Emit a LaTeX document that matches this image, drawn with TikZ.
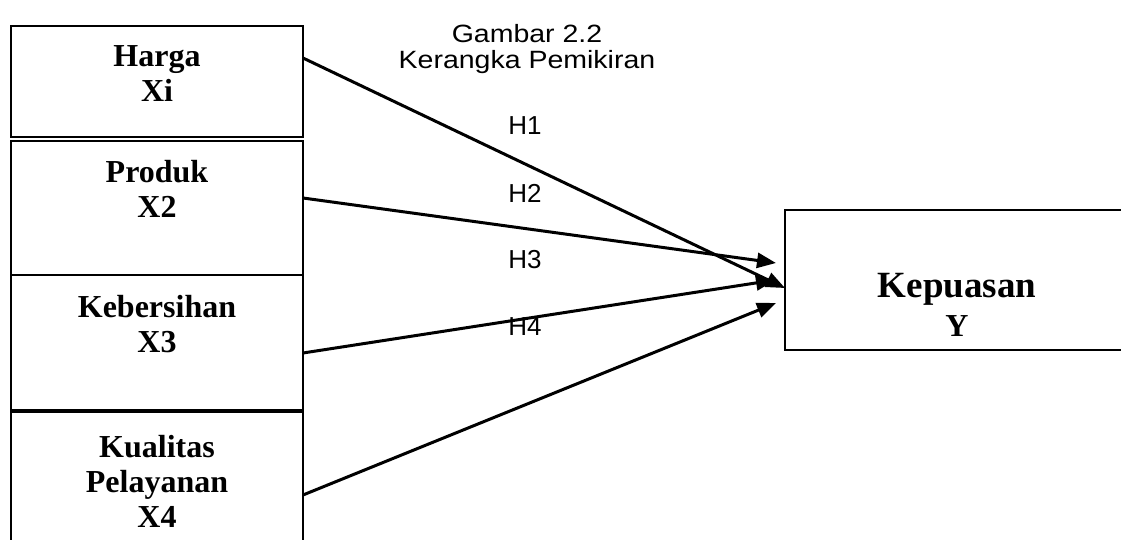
\documentclass[tikz,border=0pt]{standalone}
\usepackage{fontspec}
\setmainfont{Liberation Serif}
\newfontfamily\arialfont{Liberation Sans}
\newfontfamily\arialwide[FakeStretch=1.14]{Liberation Sans}
\usetikzlibrary{arrows.meta}
\tikzset{
  varbox/.style={draw=black, line width=2.8pt, rectangle, inner sep=0pt},
  varlbl/.style={align=center, font=\fontsize{32}{35}\selectfont\bfseries, inner sep=0pt},
  hyplbl/.style={font=\arialfont\fontsize{26}{30}\selectfont, inner sep=0pt},
  titlelbl/.style={align=center, font=\arialwide\fontsize{25}{24}\selectfont, inner sep=0pt},
  link/.style={line width=3pt, -{Triangle[length=19pt,width=15pt]}},
}
\begin{document}
\begin{tikzpicture}[x=1pt,y=-1pt]
\useasboundingbox (0,0) rectangle (1121,540);
\begin{scope}
\clip (0,0) rectangle (1121,540);
% independent variables
\draw[varbox] (11,26) rectangle (303,137);
\draw[varbox] (11,141) rectangle (303,275);
\draw[varbox] (11,275) rectangle (303,410);
\draw[varbox] (11,412) rectangle (303,570);
% dependent variable (open on the right)
\draw[varbox] (1130,210) -- (785,210) -- (785,350) -- (1130,350);
\end{scope}

\node[varlbl] (harga) at (157,74) {Harga\\Xi};
\node[varlbl] (produk) at (157,189) {Produk\\X2};
\node[varlbl] (bersih) at (157,324) {Kebersihan\\X3};
\node[varlbl] (kualitas) at (157,481) {Kualitas\\Pelayanan\\X4};
\node[align=center, inner sep=0pt, font=\fontsize{37}{39}\selectfont\bfseries] (puas) at (957,305)
  {Kepuasan\\{\fontsize{32}{36}\selectfont Y}};

% title
\node[titlelbl] (judul) at (527,34) {Gambar 2.2};
\node[titlelbl] (subjudul) at (527,62) {Kerangka Pemikiran};

% hypothesis labels
\node[hyplbl] (h1) at (525,126) {H1};
\node[hyplbl] (h2) at (525,193) {H2};
\node[hyplbl] (h3) at (525,260) {H3};
\node[hyplbl] (h4) at (525,327) {H4};

% connector ends on the box edges
\coordinate (s1) at (303,58);
\coordinate (s2) at (303,198);
\coordinate (s3) at (303,353);
\coordinate (s4) at (303,495);
\coordinate (t1) at (785,288);
\coordinate (t2) at (776,263);
\coordinate (t3) at (775,280);
\coordinate (t4) at (776,303);

\draw[link] (s1) -- (t1);
\draw[link] (s2) -- (t2);
\draw[link] (s3) -- (t3);
\draw[link] (s4) -- (t4);
\end{tikzpicture}
\end{document}
